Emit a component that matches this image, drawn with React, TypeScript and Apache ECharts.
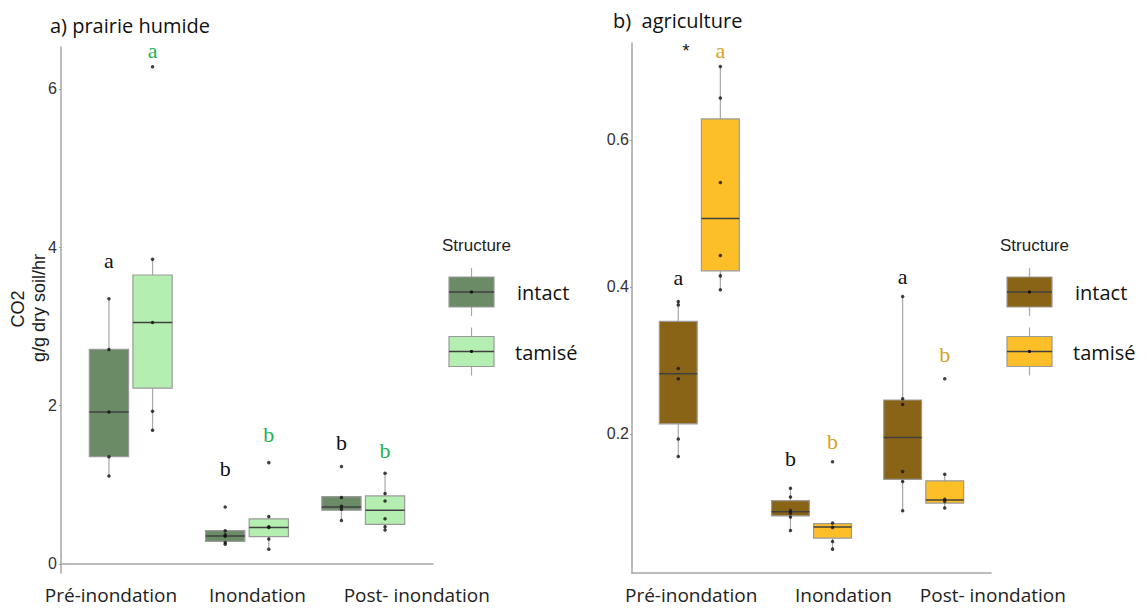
import React, { useEffect, useRef } from "react";
import * as echarts from "echarts";

// ---------- data ----------
const categories = ["Pré-inondation", "Inondation", "Post- inondation"];
const structures = ["intact", "tamisé"];

// box stats per category: [min, q1, median, q3, max]
const prairieIntactBox = [
  [1.11, 1.355, 1.92, 2.71, 3.35],
  [0.25, 0.285, 0.354, 0.42, 0.42],
  [0.55, 0.68, 0.72, 0.85, 0.85],
];
const prairieTamiseBox = [
  [1.69, 2.22, 3.05, 3.65, 3.85],
  [0.19, 0.345, 0.46, 0.57, 0.6],
  [0.43, 0.5, 0.68, 0.86, 1.145],
];
const prairieIntactPoints = [
  [3.35, 2.71, 1.92, 1.355, 1.11],
  [0.72, 0.42, 0.37, 0.35, 0.27, 0.25],
  [1.23, 0.84, 0.73, 0.69, 0.55],
];
const prairieTamisePoints = [
  [6.28, 3.85, 3.05, 1.93, 1.69],
  [1.28, 0.6, 0.47, 0.46, 0.315, 0.185],
  [1.145, 0.89, 0.795, 0.57, 0.47, 0.43],
];

const agriIntactBox = [
  [0.169, 0.2136, 0.2816, 0.353, 0.38],
  [0.0685, 0.0884, 0.0939, 0.109, 0.126],
  [0.0952, 0.138, 0.195, 0.246, 0.387],
];
const agriTamiseBox = [
  [0.396, 0.4218, 0.493, 0.6286, 0.7],
  [0.043, 0.058, 0.073, 0.0776, 0.0785],
  [0.099, 0.1057, 0.11, 0.136, 0.145],
];
const agriIntactPoints = [
  [0.38, 0.3755, 0.289, 0.275, 0.193, 0.169],
  [0.126, 0.114, 0.0957, 0.092, 0.0866, 0.0685],
  [0.387, 0.2476, 0.24, 0.1487, 0.135, 0.0952],
];
const agriTamisePoints = [
  [0.7, 0.657, 0.542, 0.4426, 0.415, 0.396],
  [0.162, 0.0785, 0.0726, 0.0535, 0.043],
  [0.275, 0.145, 0.111, 0.108, 0.099],
];

// significance letters [intact, tamisé] per category, and their heights
const prairieLetters = [["a", "a"], ["b", "b"], ["b", "b"]];
const prairieLetterY = [[3.83, 6.48], [1.21, 1.63], [1.54, 1.43]];
const agriLetters = [["a", "a"], ["b", "b"], ["a", "b"]];
const agriLetterY = [[0.413, 0.722], [0.166, 0.19], [0.414, 0.308]];
const agriStar = [[0.882, 0.721, "*"]];

const prairieTicks = [0, 2, 4, 6];
const agriTicks = [0.2, 0.4, 0.6];
const prairieLabelPos = [0.83, 2.09, 3.46];
const agriLabelPos = [0.927, 2.284, 3.59];

// ---------- styling ----------
const C_PI = "#6a8b66";
const C_PT = "#b4eeb1";
const C_AI = "#8a6416";
const C_AT = "#fdbf27";
const C_GREEN = "#1fb24e";
const C_GOLD = "#d7a224";
const OFF = 0.1875;
const BW = 0.3375;
const SANS = "Liberation Sans, Arial, sans-serif";
const CAL = "Open Sans, sans-serif";
const SERIF = "Liberation Serif, serif";

function boxRender(offset: number, fill: string) {
  return (params: any, api: any) => {
    const x = api.value(0) + 1 + offset;
    const mn = api.value(1), q1 = api.value(2), md = api.value(3), q3 = api.value(4), mx = api.value(5);
    const tl = api.coord([x - BW / 2, q3]);
    const br = api.coord([x + BW / 2, q1]);
    const top = api.coord([x, mx]);
    const bot = api.coord([x, mn]);
    const med = api.coord([x, md]);
    return {
      type: "group",
      children: [
        { type: "line", shape: { x1: top[0], y1: top[1], x2: bot[0], y2: bot[1] }, style: { stroke: "#a8a8a8", lineWidth: 1.2 } },
        { type: "rect", shape: { x: tl[0], y: tl[1], width: br[0] - tl[0], height: br[1] - tl[1] }, style: { fill, stroke: "#9a9a9a", lineWidth: 1.2 } },
        { type: "line", shape: { x1: tl[0], y1: med[1], x2: br[0], y2: med[1] }, style: { stroke: "#404040", lineWidth: 1.5 } },
      ],
    };
  };
}

function letterRender(colors: string[]) {
  return (params: any, api: any) => {
    const s = api.value(1);
    const x = api.value(0) + 1 + (s === 0 ? -OFF : OFF);
    const p = api.coord([x, api.value(2)]);
    return {
      type: "text",
      x: p[0],
      y: p[1],
      style: { text: String(api.value(3)), fill: colors[s], fontSize: 22, fontFamily: SERIF, align: "center", verticalAlign: "middle" },
    };
  };
}

function pts(arr: number[][], offset: number) {
  const out: number[][] = [];
  arr.forEach((vals, i) => vals.forEach((v) => out.push([i + 1 + offset, v])));
  return out;
}

function letterData(letters: string[][], ys: number[][]) {
  const out: any[] = [];
  letters.forEach((pair, i) => pair.forEach((t, s) => out.push([i, s, ys[i][s], t])));
  return out;
}

function legend(x0: number, cI: string, cT: string) {
  const cx = x0 + 22.5;
  const key = (y: number, fill: string) => [
    { type: "line", shape: { x1: cx, y1: y - 24, x2: cx, y2: y + 24 }, style: { stroke: "#a8a8a8", lineWidth: 1.2 } },
    { type: "rect", shape: { x: x0, y: y - 15, width: 45, height: 30 }, style: { fill, stroke: "#9a9a9a", lineWidth: 1.2 } },
    { type: "line", shape: { x1: x0, y1: y, x2: x0 + 45, y2: y }, style: { stroke: "#404040", lineWidth: 1.5 } },
    { type: "circle", shape: { cx, cy: y, r: 1.6 }, style: { fill: "#111" } },
  ];
  return [
    { type: "text", x: x0 - 7, y: 245, style: { text: "Structure", fill: "#222", fontSize: 17, fontFamily: SANS, verticalAlign: "middle" } },
    ...key(292, cI),
    ...key(351.5, cT),
    { type: "text", x: x0 + 68, y: 292, style: { text: structures[0], fill: "#111", fontSize: 20, fontFamily: CAL, verticalAlign: "middle" } },
    { type: "text", x: x0 + 66, y: 352, style: { text: structures[1], fill: "#111", fontSize: 20, fontFamily: CAL, verticalAlign: "middle" } },
  ];
}

function xAxis(gridIndex: number, pos: number[], shiftLast: number) {
  return {
    type: "value",
    gridIndex,
    min: 0.4,
    max: 3.6,
    axisLine: { show: true, lineStyle: { color: "#a6a6a6", width: 1.5 } },
    axisTick: { show: false },
    splitLine: { show: false },
    axisLabel: {
      customValues: pos,
      formatter: (v: number) => {
        let best = 0;
        pos.forEach((p, i) => { if (Math.abs(p - v) < Math.abs(pos[best] - v)) best = i; });
        return best === 2 && shiftLast > 0 ? `{s|${categories[best]}}` : categories[best];
      },
      rich: { s: { fontSize: 19, fontFamily: CAL, color: "#222", padding: [0, 0, 0, shiftLast * 2] } },
      fontSize: 19,
      fontFamily: CAL,
      color: "#222",
      margin: 12,
    },
  };
}

function yAxis(gridIndex: number, min: number, max: number, ticks: number[], margin: number) {
  return {
    type: "value",
    gridIndex,
    min,
    max,
    axisLine: { show: true, lineStyle: { color: "#a6a6a6", width: 1.5 } },
    axisTick: { show: true, customValues: ticks, length: 2, lineStyle: { color: "#999" } },
    splitLine: { show: false },
    axisLabel: { customValues: ticks, fontSize: 16, fontFamily: SANS, color: "#333", margin },
  };
}

export default function App() {
  const ref = useRef<HTMLDivElement>(null);
  useEffect(() => {
    if (!ref.current) return;
    const chart = echarts.init(ref.current, null, { renderer: "svg" });
    const mk = (arr: number[][]) => arr.map((b, k) => [k, ...b]);
    chart.setOption({
      animation: false,
      backgroundColor: "#fff",
      title: [
        { text: "a) prairie humide", left: 45, top: 10, textStyle: { fontSize: 20, fontWeight: "normal", fontFamily: CAL, color: "#111" } },
        { text: "b)  agriculture", left: 608, top: 5, textStyle: { fontSize: 20, fontWeight: "normal", fontFamily: CAL, color: "#111" } },
      ],
      grid: [
        { left: 61, top: 47, width: 372, height: 526 },
        { left: 632, top: 43, width: 359, height: 530 },
      ],
      xAxis: [xAxis(0, prairieLabelPos, 0), xAxis(1, agriLabelPos, 3)],
      yAxis: [yAxis(0, -0.114, 6.53, prairieTicks, 4), yAxis(1, 0.0105, 0.732, agriTicks, 3)],
      series: [
        { type: "custom", xAxisIndex: 0, yAxisIndex: 0, renderItem: boxRender(-OFF, C_PI), data: mk(prairieIntactBox), encode: { x: 0, y: [1, 2, 3, 4, 5] }, clip: false },
        { type: "custom", xAxisIndex: 0, yAxisIndex: 0, renderItem: boxRender(OFF, C_PT), data: mk(prairieTamiseBox), encode: { x: 0, y: [1, 2, 3, 4, 5] }, clip: false },
        { type: "custom", xAxisIndex: 1, yAxisIndex: 1, renderItem: boxRender(-OFF, C_AI), data: mk(agriIntactBox), encode: { x: 0, y: [1, 2, 3, 4, 5] }, clip: false },
        { type: "custom", xAxisIndex: 1, yAxisIndex: 1, renderItem: boxRender(OFF, C_AT), data: mk(agriTamiseBox), encode: { x: 0, y: [1, 2, 3, 4, 5] }, clip: false },
        { type: "scatter", xAxisIndex: 0, yAxisIndex: 0, symbolSize: 3.5, itemStyle: { color: "#111" }, data: [...pts(prairieIntactPoints, -OFF), ...pts(prairieTamisePoints, OFF)] },
        { type: "scatter", xAxisIndex: 1, yAxisIndex: 1, symbolSize: 3.5, itemStyle: { color: "#111" }, data: [...pts(agriIntactPoints, -OFF), ...pts(agriTamisePoints, OFF)] },
        { type: "custom", xAxisIndex: 0, yAxisIndex: 0, renderItem: letterRender(["#111", C_GREEN]), data: letterData(prairieLetters, prairieLetterY), encode: { x: 0, y: 2 }, clip: false },
        { type: "custom", xAxisIndex: 1, yAxisIndex: 1, renderItem: letterRender(["#111", C_GOLD]), data: letterData(agriLetters, agriLetterY), encode: { x: 0, y: 2 }, clip: false },
        {
          type: "custom", xAxisIndex: 1, yAxisIndex: 1, clip: false, data: agriStar, encode: { x: 0, y: 1 },
          renderItem: (p: any, api: any) => {
            const c = api.coord([api.value(0), api.value(1)]);
            return { type: "text", x: c[0], y: c[1], style: { text: "*", fill: "#111", fontSize: 18, fontFamily: SANS, align: "center", verticalAlign: "middle" } };
          },
        },
      ],
      graphic: [
        { type: "text", x: 18, y: 309, rotation: Math.PI / 2, style: { text: "CO2", fill: "#1a1a1a", fontSize: 18, fontFamily: SANS, align: "center", verticalAlign: "middle" } },
        { type: "text", x: 39, y: 308, rotation: Math.PI / 2, style: { text: "g/g dry soil/hr", fill: "#1a1a1a", fontSize: 18, fontFamily: SANS, align: "center", verticalAlign: "middle" } },
        ...legend(449, C_PI, C_PT),
        ...legend(1007, C_AI, C_AT),
      ],
    });
    return () => chart.dispose();
  }, []);
  return <div ref={ref} style={{ width: 1147, height: 609, position: "absolute", left: 0, top: 0 }} />;
}
